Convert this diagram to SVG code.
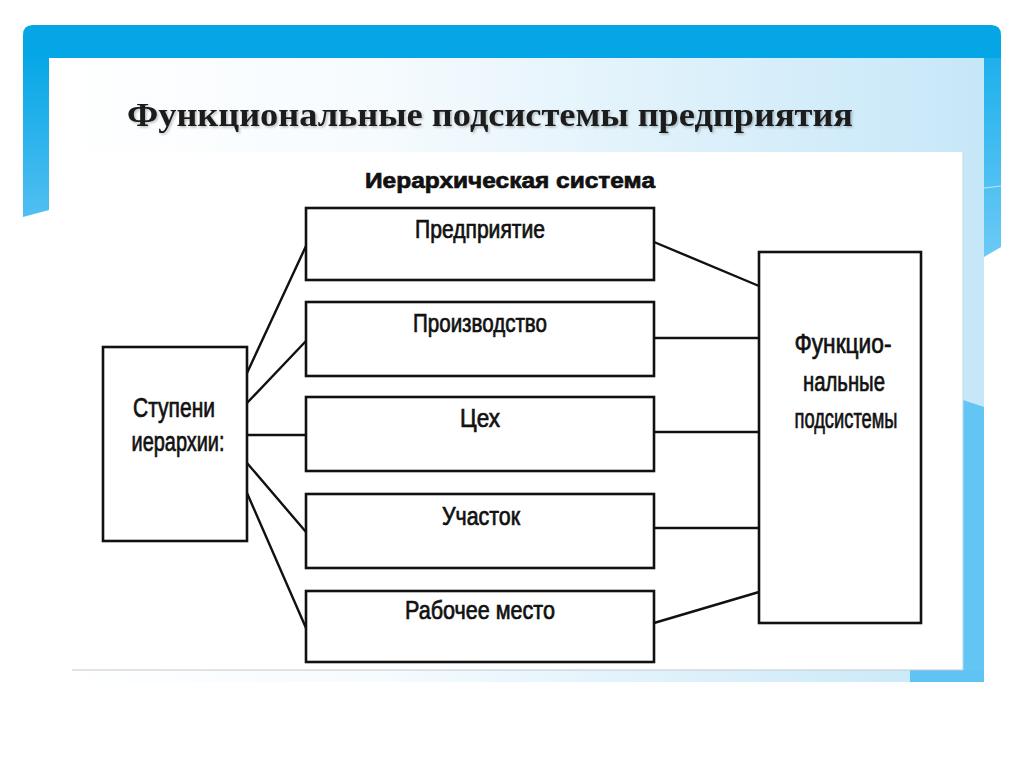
<svg xmlns="http://www.w3.org/2000/svg" width="1024" height="767" viewBox="0 0 1024 767">
<defs>
<linearGradient id="panelGrad" x1="0" y1="0" x2="1" y2="0">
<stop offset="0" stop-color="#ffffff"/>
<stop offset="0.35" stop-color="#f6fbfe"/>
<stop offset="1" stop-color="#c6e7f8"/>
</linearGradient>
<linearGradient id="leftGrad" x1="0" y1="0" x2="0" y2="1">
<stop offset="0" stop-color="#07a7e6"/>
<stop offset="1" stop-color="#52bff2"/>
</linearGradient>
<linearGradient id="rightGrad" x1="0" y1="0" x2="0" y2="1">
<stop offset="0" stop-color="#1eb0ec"/>
<stop offset="1" stop-color="#6ccaf6"/>
</linearGradient>
<filter id="shadow" x="-5%" y="-30%" width="110%" height="160%">
<feDropShadow dx="1.5" dy="1.5" stdDeviation="1" flood-color="#000" flood-opacity="0.25"/>
</filter>
</defs>
<style>
.box{fill:#ffffff;stroke:#111;stroke-width:2.6}
.lbl{font-family:"Liberation Sans",Arial,sans-serif;font-size:25px;fill:#111;stroke:#111;stroke-width:0.7;text-anchor:middle}
.big{font-size:27px}
.conn line{stroke:#111;stroke-width:2.4;stroke-linecap:round}
</style>
<rect width="1024" height="767" fill="#ffffff"/>
<g id="background">
<path d="M23,35 Q23,25 33,25 H991 Q1001,25 1001,35 V58 H23 Z" fill="#05a6e5"/>
<polygon points="23,58 49,58 49,210 23,217" fill="url(#leftGrad)"/>
<polygon points="984,58 1001,58 1001,247 984,257" fill="url(#rightGrad)"/>
<line x1="984" y1="188" x2="1001" y2="186" stroke="#bfe6fa" stroke-width="1"/>
<rect x="49" y="58" width="935" height="624" fill="url(#panelGrad)"/>
<polygon points="963,400 984,407 984,682 963,682" fill="#62c5f4"/>
<rect x="910" y="670" width="74" height="12" fill="#5fc3f4"/>
<rect x="75" y="152" width="888" height="518" fill="#ffffff"/>
<line x1="963" y1="152" x2="963" y2="670" stroke="#b9dbea" stroke-width="1"/>
<line x1="72" y1="670" x2="963" y2="670" stroke="#c4c8cc" stroke-width="1.2"/>
</g>
<g id="title">
<text x="490" y="126" font-family="'Liberation Serif','Times New Roman',serif" font-weight="bold" font-size="33" fill="#1a1a1a" text-anchor="middle" textLength="726" lengthAdjust="spacingAndGlyphs" filter="url(#shadow)">Функциональные подсистемы предприятия</text>
</g>
<g id="subtitle">
<text x="510" y="188" font-family="'Liberation Sans',Arial,sans-serif" font-weight="bold" font-size="22" fill="#111" stroke="#111" stroke-width="0.7" text-anchor="middle" textLength="290" lengthAdjust="spacingAndGlyphs">Иерархическая система</text>
</g>
<g class="conn" id="connectors">
<line x1="247" y1="373" x2="306" y2="246"/>
<line x1="247" y1="403" x2="306" y2="341"/>
<line x1="247" y1="435" x2="306" y2="435"/>
<line x1="247" y1="463" x2="306" y2="532"/>
<line x1="247" y1="493" x2="306" y2="628"/>
<line x1="654" y1="242" x2="759" y2="286"/>
<line x1="654" y1="338" x2="759" y2="338"/>
<line x1="654" y1="432" x2="759" y2="432"/>
<line x1="654" y1="528" x2="759" y2="528"/>
<line x1="654" y1="623" x2="759" y2="592"/>
</g>
<g id="node-levels">
<rect class="box" x="103" y="347" width="144" height="194"/>
<text class="lbl big" x="174" y="417" textLength="82" lengthAdjust="spacingAndGlyphs">Ступени</text>
<text class="lbl big" x="178" y="451" textLength="93" lengthAdjust="spacingAndGlyphs">иерархии:</text>
</g>
<g id="node-enterprise">
<rect class="box" x="306" y="208" width="348" height="72"/>
<text class="lbl" x="480" y="238" textLength="130" lengthAdjust="spacingAndGlyphs">Предприятие</text>
</g>
<g id="node-production">
<rect class="box" x="306" y="302" width="348" height="74"/>
<text class="lbl" x="480" y="332" textLength="134" lengthAdjust="spacingAndGlyphs">Производство</text>
</g>
<g id="node-workshop">
<rect class="box" x="306" y="397" width="348" height="74"/>
<text class="lbl" x="480" y="427" textLength="40" lengthAdjust="spacingAndGlyphs">Цех</text>
</g>
<g id="node-section">
<rect class="box" x="306" y="494" width="348" height="74"/>
<text class="lbl" x="481" y="525" textLength="78" lengthAdjust="spacingAndGlyphs">Участок</text>
</g>
<g id="node-workplace">
<rect class="box" x="306" y="591" width="348" height="71"/>
<text class="lbl" x="480" y="619" textLength="150" lengthAdjust="spacingAndGlyphs">Рабочее место</text>
</g>
<g id="node-functional">
<rect class="box" x="759" y="252" width="162" height="371"/>
<text class="lbl big" x="843" y="353" textLength="97" lengthAdjust="spacingAndGlyphs">Функцио-</text>
<text class="lbl big" x="844" y="391" textLength="82" lengthAdjust="spacingAndGlyphs">нальные</text>
<text class="lbl big" x="846" y="428" textLength="103" lengthAdjust="spacingAndGlyphs">подсистемы</text>
</g>
</svg>
